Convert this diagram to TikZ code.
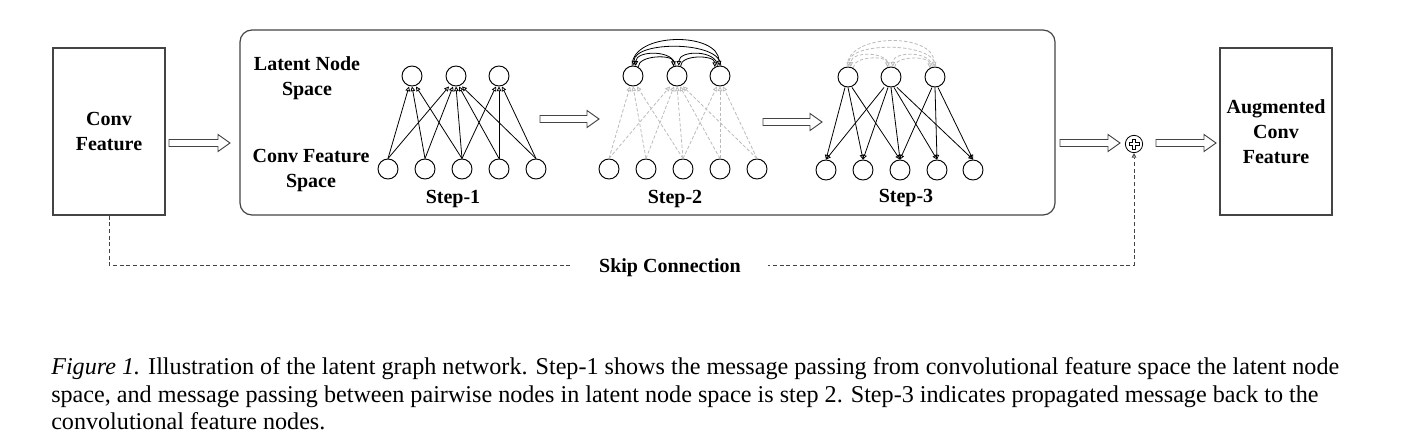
\documentclass[tikz,border=0pt]{standalone}
\usepackage{fontspec}
\setmainfont{Liberation Serif}
\usetikzlibrary{arrows.meta,calc}
\definecolor{lgray}{HTML}{BBBBBB}
\definecolor{dgray}{HTML}{444444}
\tikzset{
 nd/.style={circle,draw,line width=0.7pt,minimum size=15pt,inner sep=0pt},
 lbl/.style={font=\fontsize{15}{18.75}\selectfont\bfseries,align=center},
 tipo/.style={-{Triangle[open,length=3.5pt,width=3.5pt]}},
 solidedge/.style={tipo,line width=0.6pt,black},
 ghostedge/.style={tipo,line width=0.6pt,lgray,dash pattern=on 2.5pt off 1.5pt},
 featbox/.style={draw=dgray,line width=0.8pt,minimum width=84pt,minimum height=125.25pt,lbl},
 bigbox/.style={draw=dgray,line width=0.9pt,rounded corners=9pt,minimum width=611.25pt,minimum height=138.75pt},
 barrowstyle/.style={draw=dgray,line width=0.7pt,fill=white},
 skipline/.style={draw=dgray,line width=0.7pt,dash pattern=on 3pt off 2pt},
 captext/.style={anchor=base west,inner sep=0pt,font=\fontsize{18.1}{21}\selectfont}
}
\newcommand\blockarr[3]{\draw[barrowstyle] (#1,#3-3.5) -- (#2-12,#3-3.5) -- (#2-12,#3-8.5) -- (#2,#3) -- (#2-12,#3+8.5) -- (#2-12,#3+3.5) -- (#1,#3+3.5) -- cycle;}
\begin{document}
\begin{tikzpicture}[x=0.75pt,y=-0.75pt]
\useasboundingbox (0,0) rectangle (1416,446);
% boxes
\node[featbox] (conv) at (109,131.5) {Conv\\Feature};
\node[featbox] (aug) at (1276,131.5) {Augmented\\Conv\\Feature};
\node[bigbox] (gcn) at (647.5,122.5) {};
% labels
\node[lbl] (lns) at (307,78) {Latent Node\\Space};
\node[lbl] (cfs) at (311,171) {Conv Feature\\Space};
\node[lbl] (s1) at (453,199) {Step-1};
\node[lbl] (s2) at (675,199) {Step-2};
\node[lbl] (s3) at (906,198) {Step-3};
% step 1 nodes
\foreach \i/\x in {1/412,2/456,3/499} \node[nd] (A\i) at (\x,76) {};
\foreach \i/\x in {1/388,2/425,3/462,4/499,5/536} \node[nd] (a\i) at (\x,169) {};
% step 2 nodes
\foreach \i/\x in {1/633,2/677,3/720} \node[nd] (B\i) at (\x,76) {};
\foreach \i/\x in {1/609,2/646,3/683,4/720,5/757} \node[nd] (b\i) at (\x,169) {};
% step 3 nodes
\foreach \i/\x in {1/848,2/891,3/935} \node[nd] (C\i) at (\x,77) {};
\foreach \i/\x in {1/826,2/863,3/900,4/937,5/973} \node[nd] (c\i) at (\x,170) {};
% edges
\foreach \c/\l/\d in {1/1/-3,1/2/-7,2/1/0,2/2/-3,3/1/4,3/2/0,3/3/-3,4/2/3,4/3/0,5/2/6,5/3/3}{
  \draw[solidedge] (a\c.north) -- ([xshift=\d*0.75pt]A\l.south);
  \draw[ghostedge] (b\c.north) -- ([xshift=\d*0.75pt]B\l.south);
  \draw[solidedge] ([xshift=\d*0.75pt]C\l.south) -- (c\c.north);
}
% step 2 arcs
\draw[solidedge] (B1.95) .. controls +(0,-34) and +(0,-34) .. (B3.95);
\draw[solidedge] (B3.85) .. controls +(0,-25) and +(0,-25) .. (B1.85);
\draw[solidedge] (B1.60) .. controls +(0,-12) and +(0,-12) .. (B2.110);
\draw[solidedge] (B2.100) .. controls +(0,-16) and +(0,-16) .. (B1.75);
\draw[solidedge] (B2.70) .. controls +(0,-12) and +(0,-12) .. (B3.120);
\draw[solidedge] (B3.105) .. controls +(0,-16) and +(0,-16) .. (B2.80);
% step 3 arcs
\draw[ghostedge] (C1.95) .. controls +(0,-34) and +(0,-34) .. (C3.95);
\draw[ghostedge] (C3.85) .. controls +(0,-25) and +(0,-25) .. (C1.85);
\draw[ghostedge] (C1.60) .. controls +(0,-12) and +(0,-12) .. (C2.110);
\draw[ghostedge] (C2.100) .. controls +(0,-16) and +(0,-16) .. (C1.75);
\draw[ghostedge] (C2.70) .. controls +(0,-12) and +(0,-12) .. (C3.120);
\draw[ghostedge] (C3.105) .. controls +(0,-16) and +(0,-16) .. (C2.80);
% plus
\node[circle,draw=black,line width=0.6pt,minimum size=13pt,inner sep=0pt] (plus) at (1134,144) {};
\draw[line width=0.5pt] ($(plus)+(-1.5,-5)$) -- ++(3,0) -- ++(0,3.5) -- ++(3.5,0) -- ++(0,3) -- ++(-3.5,0) -- ++(0,3.5) -- ++(-3,0) -- ++(0,-3.5) -- ++(-3.5,0) -- ++(0,-3) -- ++(3.5,0) -- cycle;
% block arrows
\blockarr{169}{230}{143}
\blockarr{540}{599}{119}
\blockarr{763}{822}{122}
\blockarr{1060}{1120}{143}
\blockarr{1156}{1216}{143}
% skip connection
\coordinate (k1) at (109,265);
\coordinate (k2) at (1134,265);
\draw[skipline,-{Triangle[open,length=3.5pt,width=3.5pt]}] (conv.south) -- (k1) -- (k2) -- (plus.south);
\node[lbl,fill=white,inner xsep=20pt,inner ysep=2pt] (skip) at (670,268) {Skip Connection};
% caption
\node[captext] (cap1) at (51,374) {\textit{Figure 1.} Illustration of the latent graph network. Step-1 shows the message passing from convolutional feature space the latent node};
\node[captext] (cap2) at (51,402) {space, and message passing between pairwise nodes in latent node space is step 2. Step-3 indicates propagated message back to the};
\node[captext] (cap3) at (51,429) {convolutional feature nodes.};
\end{tikzpicture}
\end{document}
